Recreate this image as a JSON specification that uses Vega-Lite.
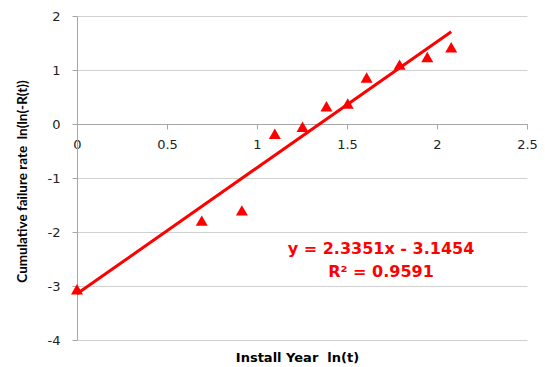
{
  "$schema": "https://vega.github.io/schema/vega-lite/v6.json",
  "width": 450,
  "height": 324,
  "autosize": {"type": "none"},
  "padding": {"left": 77, "top": 16, "right": 18, "bottom": 27},
  "background": "white",
  "config": {
    "view": {"stroke": null},
    "axis": {"labelFont": "DejaVu Sans", "labelFontSize": 13, "labelColor": "#222222"}
  },
  "datasets": {
    "points": [
      {"lnt": 0.0, "lnlnR": -3.06},
      {"lnt": 0.693, "lnlnR": -1.79},
      {"lnt": 0.916, "lnlnR": -1.60},
      {"lnt": 1.099, "lnlnR": -0.18},
      {"lnt": 1.253, "lnlnR": -0.05},
      {"lnt": 1.386, "lnlnR": 0.33},
      {"lnt": 1.504, "lnlnR": 0.38},
      {"lnt": 1.609, "lnlnR": 0.86},
      {"lnt": 1.792, "lnlnR": 1.10},
      {"lnt": 1.946, "lnlnR": 1.24},
      {"lnt": 2.079, "lnlnR": 1.42}
    ],
    "trend": [
      {"lnt": 0.0, "lnlnR": -3.1454},
      {"lnt": 2.079, "lnlnR": 1.7093}
    ],
    "labels": [
      {"lnt": 1.689, "lnlnR": -2.32, "text": "y = 2.3351x - 3.1454"},
      {"lnt": 1.689, "lnlnR": -2.74, "text": "R² = 0.9591"}
    ]
  },
  "layer": [
    {
      "data": {"name": "trend"},
      "mark": {"type": "line", "color": "#ff0000", "strokeWidth": 3},
      "encoding": {
        "x": {
          "field": "lnt", "type": "quantitative",
          "scale": {"domain": [0, 2.5], "nice": false, "zero": false},
          "axis": {
            "orient": "bottom", "offset": -216,
            "values": [0, 0.5, 1, 1.5, 2, 2.5],
            "labelExpr": "format(datum.value, '~g')",
            "grid": false,
            "domainColor": "#a6a6a6", "tickColor": "#a6a6a6", "tickSize": 5,
            "labelPadding": 9, "labelFlush": false,
            "title": "Install Year\u00a0 ln(t)",
            "titleFont": "DejaVu Sans", "titleFontSize": 13, "titleFontWeight": "bold",
            "titleColor": "#000000",
            "titleX": 220, "titleY": 233, "titleBaseline": "middle", "titleAnchor": "middle"
          }
        },
        "y": {
          "field": "lnlnR", "type": "quantitative",
          "scale": {"domain": [-4, 2], "nice": false, "zero": false},
          "axis": {
            "values": [-4, -3, -2, -1, 0, 1, 2],
            "labelExpr": "datum.value < 0 ? '-' + format(-datum.value, 'd') : format(datum.value, 'd')",
            "grid": true, "gridColor": "#d0d0d0",
            "domainColor": "#a6a6a6", "tickColor": "#a6a6a6", "tickSize": 5,
            "labelPadding": 12,
            "title": "Cumulative failure rate\u00a0 ln(ln(-R(t))",
            "titleFont": "Lato", "titleFontSize": 13.5, "titleFontWeight": "bold",
            "titleColor": "#000000",
            "titleX": -55, "titleY": 165, "titleBaseline": "middle", "titleAnchor": "middle"
          }
        }
      }
    },
    {
      "data": {"name": "points"},
      "mark": {"type": "point", "shape": "triangle-up", "filled": true, "color": "#ff0000", "size": 144, "opacity": 1},
      "encoding": {
        "x": {"field": "lnt", "type": "quantitative"},
        "y": {"field": "lnlnR", "type": "quantitative"}
      }
    },
    {
      "data": {"name": "labels"},
      "mark": {"type": "text", "color": "#ff0000", "font": "DejaVu Sans", "fontWeight": "bold", "fontSize": 16, "align": "center", "baseline": "middle"},
      "encoding": {
        "x": {"field": "lnt", "type": "quantitative"},
        "y": {"field": "lnlnR", "type": "quantitative"},
        "text": {"field": "text"}
      }
    }
  ]
}
